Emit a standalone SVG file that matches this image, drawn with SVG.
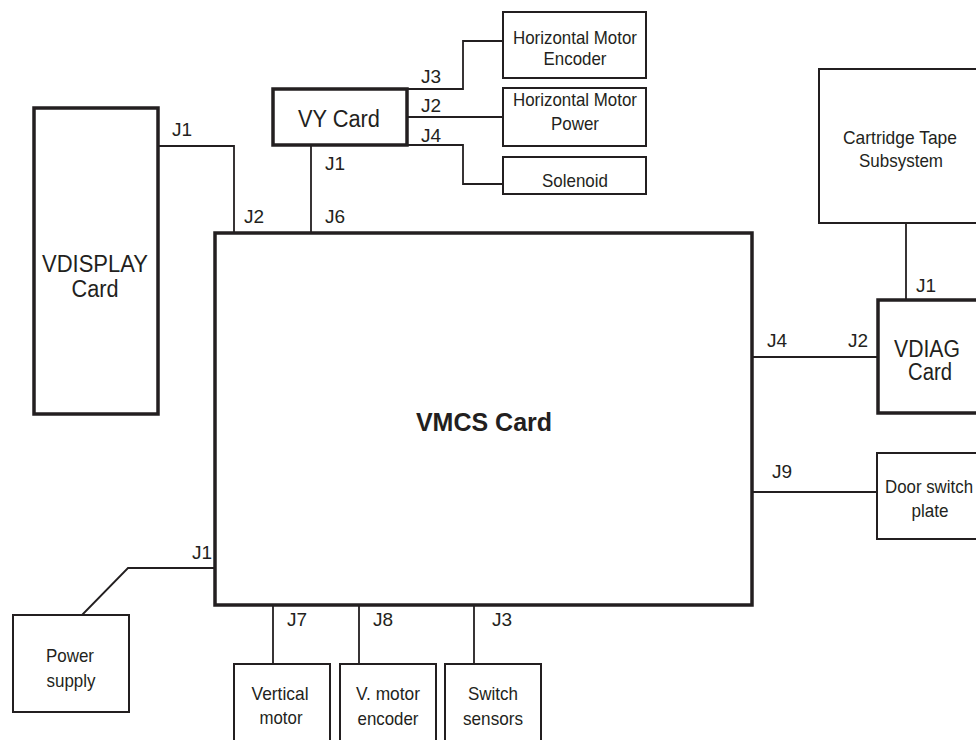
<svg xmlns="http://www.w3.org/2000/svg" width="976" height="740" viewBox="0 0 976 740">
<style>
text{font-family:"Liberation Sans",Arial,sans-serif;fill:#231f20}
.s{font-size:19px}
.m{font-size:23px;text-anchor:middle}
.c{text-anchor:middle}
.b{font-size:25px;font-weight:bold;text-anchor:middle}
.thick{fill:#fff;stroke:#231f20;stroke-width:3.5}
.thin{fill:#fff;stroke:#231f20;stroke-width:2}
.ln{fill:none;stroke:#231f20;stroke-width:1.8}
</style>
<rect width="976" height="740" fill="#fff"/>
<g id="connectors">
<path class="ln" d="M158 146H234V233"/>
<path class="ln" d="M311 145V233"/>
<path class="ln" d="M407 89H463V41H503"/>
<path class="ln" d="M407 117H503"/>
<path class="ln" d="M407 145H463V184H503"/>
<path class="ln" d="M906 223V300"/>
<path class="ln" d="M752 357H878"/>
<path class="ln" d="M752 492H877"/>
<path class="ln" d="M215 568H128L82 615"/>
<path class="ln" d="M273 605V664"/>
<path class="ln" d="M359 605V664"/>
<path class="ln" d="M474 605V664"/>
<text class="s" x="172" y="136">J1</text>
<text class="s" x="244" y="223">J2</text>
<text class="s" x="325" y="223">J6</text>
<text class="s" x="325" y="170">J1</text>
<text class="s" x="421" y="83">J3</text>
<text class="s" x="421" y="112">J2</text>
<text class="s" x="421" y="142">J4</text>
<text class="s" x="916" y="292">J1</text>
<text class="s" x="767" y="347">J4</text>
<text class="s" x="848" y="347">J2</text>
<text class="s" x="772" y="478">J9</text>
<text class="s" x="192" y="559">J1</text>
<text class="s" x="287" y="626">J7</text>
<text class="s" x="373" y="626">J8</text>
<text class="s" x="492" y="626">J3</text>
</g>
<g id="vdisplay">
<rect class="thick" x="34" y="108" width="124" height="306"/>
<text class="m" x="95" y="272" textLength="106" lengthAdjust="spacingAndGlyphs">VDISPLAY</text>
<text class="m" x="95" y="297" textLength="47" lengthAdjust="spacingAndGlyphs">Card</text>
</g>
<g id="vmcs">
<rect class="thick" x="215" y="233" width="537" height="372"/>
<text class="b" x="484" y="431">VMCS Card</text>
</g>
<g id="vy">
<rect class="thick" x="273" y="89" width="134" height="56"/>
<text class="m" x="339" y="127" textLength="82" lengthAdjust="spacingAndGlyphs">VY Card</text>
</g>
<g id="hm-encoder">
<rect class="thin" x="503" y="12" width="143" height="66"/>
<text class="s c" x="575" y="44" textLength="124" lengthAdjust="spacingAndGlyphs">Horizontal Motor</text>
<text class="s c" x="575" y="65" textLength="63" lengthAdjust="spacingAndGlyphs">Encoder</text>
</g>
<g id="hm-power">
<rect class="thin" x="503" y="88" width="143" height="58"/>
<text class="s c" x="575" y="106" textLength="124" lengthAdjust="spacingAndGlyphs">Horizontal Motor</text>
<text class="s c" x="575" y="130" textLength="48" lengthAdjust="spacingAndGlyphs">Power</text>
</g>
<g id="solenoid">
<rect class="thin" x="503" y="157" width="143" height="37"/>
<text class="s c" x="575" y="187" textLength="66" lengthAdjust="spacingAndGlyphs">Solenoid</text>
</g>
<g id="cartridge">
<rect class="thin" x="819" y="69" width="170" height="154"/>
<text class="s c" x="900" y="144" textLength="114" lengthAdjust="spacingAndGlyphs">Cartridge Tape</text>
<text class="s c" x="901" y="167" textLength="84" lengthAdjust="spacingAndGlyphs">Subsystem</text>
</g>
<g id="vdiag">
<rect class="thick" x="878" y="300" width="110" height="113"/>
<text class="m" x="927" y="357" textLength="66" lengthAdjust="spacingAndGlyphs">VDIAG</text>
<text class="m" x="930" y="380" textLength="44" lengthAdjust="spacingAndGlyphs">Card</text>
</g>
<g id="door">
<rect class="thin" x="877" y="453" width="110" height="86"/>
<text class="s c" x="929" y="493" textLength="88" lengthAdjust="spacingAndGlyphs">Door switch</text>
<text class="s c" x="930" y="517" textLength="37" lengthAdjust="spacingAndGlyphs">plate</text>
</g>
<g id="power">
<rect class="thin" x="13" y="615" width="116" height="97"/>
<text class="s c" x="70" y="662" textLength="48" lengthAdjust="spacingAndGlyphs">Power</text>
<text class="s c" x="71" y="687" textLength="49" lengthAdjust="spacingAndGlyphs">supply</text>
</g>
<g id="vmotor">
<rect class="thin" x="234" y="664" width="96" height="90"/>
<text class="s c" x="280" y="700" textLength="57" lengthAdjust="spacingAndGlyphs">Vertical</text>
<text class="s c" x="281" y="724" textLength="43" lengthAdjust="spacingAndGlyphs">motor</text>
</g>
<g id="vencoder">
<rect class="thin" x="340" y="664" width="96" height="90"/>
<text class="s c" x="388" y="700" textLength="64" lengthAdjust="spacingAndGlyphs">V. motor</text>
<text class="s c" x="388" y="725" textLength="61" lengthAdjust="spacingAndGlyphs">encoder</text>
</g>
<g id="switch">
<rect class="thin" x="445" y="664" width="96" height="90"/>
<text class="s c" x="493" y="700" textLength="50" lengthAdjust="spacingAndGlyphs">Switch</text>
<text class="s c" x="493" y="725" textLength="60" lengthAdjust="spacingAndGlyphs">sensors</text>
</g>
</svg>
